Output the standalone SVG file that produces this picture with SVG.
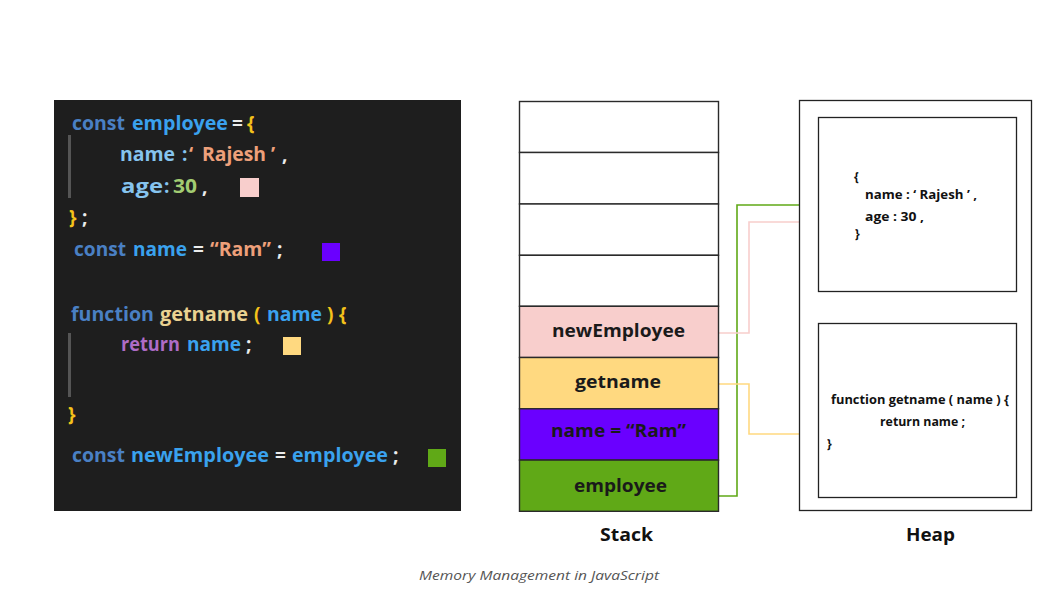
<svg xmlns="http://www.w3.org/2000/svg" width="1064" height="595" viewBox="0 0 1064 595">
<style>
.code{font-family:"Open Sans","Noto Sans",sans-serif;font-size:19px;font-weight:700}
.kw{fill:#4a80c4}
.var{fill:#3aa2ee}
.prop{fill:#86c4ee}
.str{fill:#eea07a}
.num{fill:#a2cc72}
.op{fill:#ececec}
.br{fill:#f4c21a}
.fn{fill:#ead291}
.ret{fill:#ae6cc6}
.cell{stroke:#2a2a2a;stroke-width:1.4}
.lbl{font-family:"Open Sans","Noto Sans",sans-serif;font-size:17px;font-weight:700;fill:#1a1a1a}
.heap{font-family:"Open Sans","Noto Sans",sans-serif;font-size:12px;font-weight:700;fill:#111}
.title{font-family:"Open Sans","Noto Sans",sans-serif;font-size:18px;font-weight:700;fill:#111}
.box{fill:#fff;stroke:#222;stroke-width:1.3}
.conn{fill:none;stroke-width:1.6}
</style>
<rect width="1064" height="595" fill="#fff"/>

<g id="code">
<rect x="54" y="100" width="407" height="411" fill="#1e1e1e"/>
<rect x="68" y="135" width="3" height="63" fill="#555"/>
<rect x="68" y="333" width="3" height="64" fill="#555"/>
<text class="code" y="130"><tspan class="kw" x="72" textLength="53" lengthAdjust="spacingAndGlyphs">const</tspan><tspan class="var" x="132" textLength="96" lengthAdjust="spacingAndGlyphs">employee</tspan><tspan class="op" x="232">=</tspan><tspan class="br" x="247">{</tspan></text>
<text class="code" y="161"><tspan class="prop" x="120" textLength="55" lengthAdjust="spacingAndGlyphs">name</tspan><tspan class="prop" x="182">:</tspan><tspan class="str" x="189">‘</tspan><tspan class="str" x="202" textLength="64" lengthAdjust="spacingAndGlyphs">Rajesh</tspan><tspan class="str" x="271">’</tspan><tspan class="op" x="282">,</tspan></text>
<text class="code" y="193"><tspan class="prop" x="121" textLength="42" lengthAdjust="spacingAndGlyphs">age</tspan><tspan class="prop" x="164">:</tspan><tspan class="num" x="173" textLength="24" lengthAdjust="spacingAndGlyphs">30</tspan><tspan class="op" x="202">,</tspan></text>
<rect x="240" y="178" width="19" height="19" fill="#f8cecc"/>
<text class="code" y="224"><tspan class="br" x="69">}</tspan><tspan class="op" x="82">;</tspan></text>
<text class="code" y="256"><tspan class="kw" x="74" textLength="52" lengthAdjust="spacingAndGlyphs">const</tspan><tspan class="var" x="133" textLength="54" lengthAdjust="spacingAndGlyphs">name</tspan><tspan class="op" x="193">=</tspan><tspan class="str" x="210" textLength="61" lengthAdjust="spacingAndGlyphs">“Ram”</tspan><tspan class="op" x="277">;</tspan></text>
<rect x="322" y="243" width="18" height="18" fill="#6a00ff"/>
<text class="code" y="321"><tspan class="kw" x="71" textLength="83" lengthAdjust="spacingAndGlyphs">function</tspan><tspan class="fn" x="160" textLength="88" lengthAdjust="spacingAndGlyphs">getname</tspan><tspan class="br" x="254">(</tspan><tspan class="var" x="267" textLength="55" lengthAdjust="spacingAndGlyphs">name</tspan><tspan class="br" x="327">)</tspan><tspan class="br" x="339">{</tspan></text>
<text class="code" y="351"><tspan class="ret" x="121" textLength="59" lengthAdjust="spacingAndGlyphs">return</tspan><tspan class="var" x="187" textLength="54" lengthAdjust="spacingAndGlyphs">name</tspan><tspan class="op" x="246">;</tspan></text>
<rect x="283" y="337" width="18" height="18" fill="#ffd980"/>
<text class="code" y="421"><tspan class="br" x="68">}</tspan></text>
<text class="code" y="462"><tspan class="kw" x="72" textLength="53" lengthAdjust="spacingAndGlyphs">const</tspan><tspan class="var" x="131" textLength="138" lengthAdjust="spacingAndGlyphs">newEmployee</tspan><tspan class="op" x="275">=</tspan><tspan class="var" x="292" textLength="96" lengthAdjust="spacingAndGlyphs">employee</tspan><tspan class="op" x="393">;</tspan></text>
<rect x="428" y="449" width="18" height="18" fill="#60a917"/>
</g>

<g id="connectors">
<polyline class="conn" stroke="#60a917" points="718,496 737,496 737,205 818,205"/>
<polyline class="conn" stroke="#f8cecc" points="718,333 749,333 749,222 818,222"/>
<polyline class="conn" stroke="#ffd980" points="718,384 749,384 749,434 818,434"/>
</g>

<g id="stack">
<rect class="cell" x="519.5" y="101.5" width="199" height="51" fill="#fff"/>
<rect class="cell" x="519.5" y="152.5" width="199" height="51.5" fill="#fff"/>
<rect class="cell" x="519.5" y="204" width="199" height="51.3" fill="#fff"/>
<rect class="cell" x="519.5" y="255.3" width="199" height="51" fill="#fff"/>
<g id="newEmployee"><rect class="cell" x="519.5" y="306.3" width="199" height="51.2" fill="#f8cecc"/><text class="lbl" x="552" y="337" textLength="133" lengthAdjust="spacingAndGlyphs">newEmployee</text></g>
<g id="getname"><rect class="cell" x="519.5" y="357.5" width="199" height="51.3" fill="#ffd980"/><text class="lbl" x="575" y="388" textLength="86" lengthAdjust="spacingAndGlyphs">getname</text></g>
<g id="nameRam"><rect class="cell" x="519.5" y="408.8" width="199" height="51.3" fill="#6a00ff"/><text class="lbl" x="551" y="437" textLength="135" lengthAdjust="spacingAndGlyphs" fill="#111">name = “Ram”</text></g>
<g id="employee"><rect class="cell" x="519.5" y="460.1" width="199" height="51.2" fill="#60a917"/><text class="lbl" x="574" y="492" textLength="93" lengthAdjust="spacingAndGlyphs">employee</text></g>
<text class="title" x="600" y="541" textLength="53" lengthAdjust="spacingAndGlyphs">Stack</text>
</g>

<g id="heap">
<rect class="box" x="799.5" y="100.5" width="232" height="410"/>
<g id="heapObject">
<rect class="box" x="818.5" y="117.5" width="198" height="174"/>
<text class="heap" x="854" y="181">{</text>
<text class="heap" x="865" y="199" textLength="112" lengthAdjust="spacingAndGlyphs">name : ‘ Rajesh ’ ,</text>
<text class="heap" x="865" y="221" textLength="59" lengthAdjust="spacingAndGlyphs">age : 30 ,</text>
<text class="heap" x="855" y="238">}</text>
</g>
<g id="heapFunction">
<rect class="box" x="818.5" y="323.5" width="198" height="174"/>
<text class="heap" x="831" y="404" font-size="11.5" textLength="178" lengthAdjust="spacingAndGlyphs">function getname ( name ) {</text>
<text class="heap" x="880" y="426" font-size="11.5" textLength="85" lengthAdjust="spacingAndGlyphs">return name ;</text>
<text class="heap" x="827" y="448">}</text>
</g>
<text class="title" x="906" y="541" textLength="49" lengthAdjust="spacingAndGlyphs">Heap</text>
</g>

<text x="419" y="580" font-family="'Open Sans','Noto Sans',sans-serif" font-size="13.5" font-style="italic" fill="#555" textLength="240" lengthAdjust="spacingAndGlyphs">Memory Management in JavaScript</text>
</svg>
